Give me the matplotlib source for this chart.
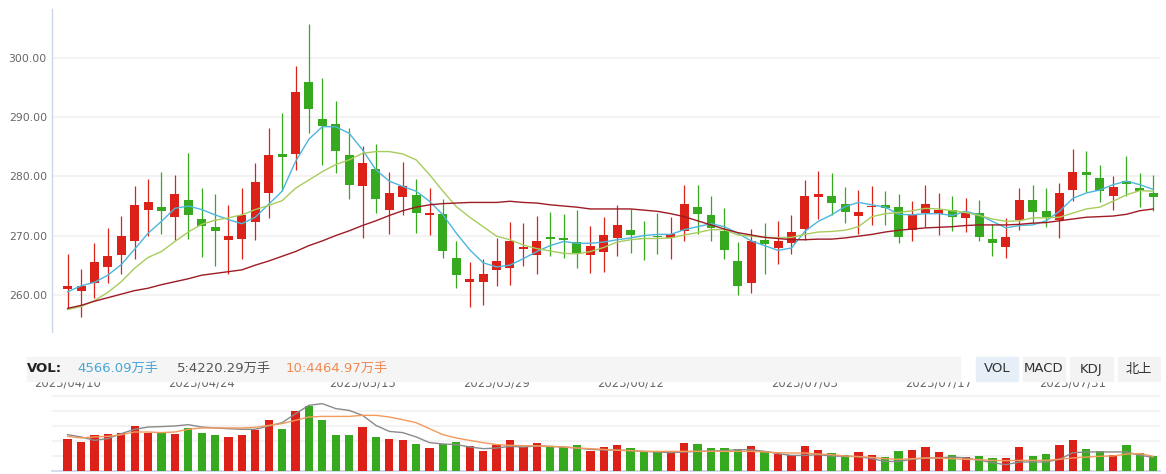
import matplotlib.pyplot as plt
import matplotlib.transforms as mtransforms
from matplotlib.patches import Rectangle

plt.rcParams['font.family'] = ['DejaVu Sans', 'Noto Sans CJK SC']

# daily candles, 2023/04/10 .. 2023/08/08
opens = [261.0, 260.7, 261.9, 264.7, 266.8, 269.1, 274.4, 274.8, 273.2, 276.0,
         272.8, 271.4, 269.3, 269.5, 272.3, 277.2, 283.8, 283.8, 295.9, 289.7,
         288.8, 283.6, 278.3, 281.2, 274.4, 276.5, 276.9, 273.4, 273.6, 266.2,
         262.2, 262.2, 264.1, 264.6, 267.8, 266.8, 269.8, 269.6, 268.9, 266.7,
         267.2, 269.6, 270.9, 269.6, 269.8, 269.6, 270.7, 274.8, 273.5, 270.8,
         265.7, 262.0, 269.2, 267.9, 268.7, 271.1, 276.6, 276.7, 275.3, 273.3,
         274.8, 275.2, 274.8, 270.9, 273.8, 273.7, 274.3, 272.9, 273.8, 269.4,
         268.1, 272.6, 276.0, 274.1, 272.6, 277.7, 280.7, 279.7, 276.7, 279.2,
         278.0, 277.2]
highs = [266.9, 264.4, 268.7, 271.3, 273.3, 278.4, 279.5, 280.7, 280.2, 283.9,
         278.0, 277.0, 275.2, 278.0, 282.3, 288.2, 290.7, 298.6, 305.7, 296.6,
         292.7, 288.2, 285.2, 285.5, 280.7, 282.5, 279.5, 278.0, 276.2, 269.1,
         265.5, 266.1, 269.6, 272.3, 272.1, 273.3, 274.0, 273.6, 274.3, 271.6,
         273.1, 275.2, 274.5, 272.5, 273.8, 273.1, 278.5, 278.5, 276.7, 274.7,
         268.9, 271.1, 272.1, 272.5, 273.5, 279.4, 280.9, 280.6, 278.2, 277.7,
         278.4, 277.5, 277.0, 275.8, 278.5, 277.2, 276.7, 276.3, 276.0, 271.9,
         273.0, 278.0, 278.5, 278.0, 278.9, 284.6, 284.3, 281.9, 280.1, 283.4,
         280.6, 280.2]
lows = [257.7, 256.3, 259.4, 262.0, 263.5, 266.1, 270.0, 270.3, 269.3, 269.5,
        266.4, 264.9, 263.5, 266.1, 269.3, 273.0, 277.5, 281.1, 287.3, 282.0,
        280.5, 276.1, 269.6, 273.8, 270.3, 273.5, 270.4, 270.1, 266.2, 261.1,
        258.0, 258.3, 261.5, 261.7, 264.8, 263.5, 266.6, 266.2, 264.5, 263.7,
        263.8, 266.5, 267.0, 265.8, 266.9, 266.1, 269.1, 270.3, 269.1, 266.1,
        259.9, 260.3, 263.5, 265.2, 266.9, 269.2, 272.8, 273.5, 272.1, 270.3,
        271.8, 271.8, 268.7, 269.1, 271.4, 270.1, 270.8, 270.6, 269.1, 266.5,
        266.2, 271.0, 272.1, 271.4, 269.6, 275.8, 277.4, 275.7, 274.3, 276.7,
        274.8, 274.1]
closes = [261.5, 261.5, 265.5, 266.5, 269.9, 275.2, 275.7, 274.2, 277.0, 273.4,
          271.7, 270.8, 269.9, 273.5, 279.0, 283.6, 283.3, 294.3, 291.4, 288.6,
          284.3, 278.6, 282.3, 276.1, 277.2, 278.4, 273.9, 273.8, 267.4, 263.4,
          262.7, 263.5, 265.7, 269.0, 268.1, 269.1, 269.4, 269.3, 267.0, 268.2,
          270.1, 271.8, 270.1, 269.4, 269.8, 270.3, 275.3, 273.7, 271.3, 267.6,
          261.5, 269.1, 268.6, 269.1, 270.6, 276.7, 277.0, 275.5, 274.0, 274.0,
          275.0, 274.6, 269.8, 273.5, 275.3, 274.3, 273.1, 273.8, 269.8, 268.8,
          269.8, 276.0, 274.0, 273.1, 277.2, 280.7, 280.3, 277.6, 278.2, 278.8,
          277.5, 276.6]

ma5 = [260.5, 261.5, 262.1, 263.3, 265.1, 267.7, 270.4, 272.4, 274.6, 275.0,
       274.4, 273.5, 272.7, 272.0, 273.1, 275.3, 277.5, 282.5, 286.3, 288.4,
       288.4, 287.3, 284.5, 281.1, 279.2, 278.3, 277.5, 275.8, 273.5, 270.4,
       267.6, 265.4, 264.7, 265.0, 266.1, 267.3, 268.3, 269.0, 268.7, 268.7,
       268.9, 269.3, 269.6, 270.0, 270.2, 270.2, 271.0, 271.5, 272.0, 271.5,
       270.4, 269.1, 268.3, 267.5, 267.9, 270.7, 272.4, 273.5, 274.9, 275.6,
       275.2, 274.8, 273.6, 273.5, 273.7, 273.7, 273.4, 274.1, 273.5, 272.4,
       271.3, 271.7, 271.8, 272.5, 274.1, 276.3, 277.2, 277.7, 278.6, 279.2,
       278.6, 277.8]
ma10 = [257.5, 258.0, 259.0, 260.4, 262.2, 264.5, 266.3, 267.3, 269.0, 270.6,
        271.9, 272.6, 273.0, 273.5, 274.4, 275.1, 275.9, 278.0, 279.4, 280.8,
        282.0, 282.8, 283.9, 284.2, 284.2, 283.8, 282.8, 280.3, 277.5, 274.9,
        273.1, 271.5, 269.9, 269.3, 268.4, 267.8, 267.4, 267.0, 266.9, 267.3,
        268.0, 268.9, 269.3, 269.5, 269.5, 269.6, 270.1, 270.5, 271.0, 271.0,
        270.1, 269.9, 269.7, 269.6, 269.7, 270.2, 270.6, 270.7, 270.9, 271.5,
        273.2, 273.7, 273.9, 274.2, 274.6, 274.5, 274.2, 273.9, 273.4, 272.8,
        272.4, 272.5, 273.0, 273.0, 273.1, 273.8, 274.5, 274.8, 275.8, 276.9,
        277.6, 277.5]
ma30 = [257.7, 258.2, 258.9, 259.5, 260.1, 260.7, 261.1, 261.7, 262.2, 262.7,
        263.3, 263.6, 263.9, 264.2, 265.0, 265.7, 266.5, 267.3, 268.3, 269.1,
        270.0, 270.8, 271.7, 272.5, 273.4, 274.2, 274.8, 275.2, 275.4, 275.5,
        275.6, 275.6, 275.6, 275.8, 275.6, 275.5, 275.2, 275.0, 274.8, 274.5,
        274.5, 274.5, 274.5, 274.3, 274.1, 273.7, 273.2, 272.5, 271.8, 271.1,
        270.5, 270.1, 269.7, 269.5, 269.3, 269.3, 269.4, 269.4, 269.6, 269.9,
        270.2, 270.6, 270.9, 271.1, 271.3, 271.4, 271.5, 271.7, 271.8, 271.8,
        271.8, 271.9, 272.1, 272.2, 272.5, 272.8, 273.1, 273.2, 273.3, 273.6,
        274.2, 274.5]

# volume in 万手
volume = [9730, 8810, 10960, 11280, 11550, 13700, 11550, 11550, 11280, 13100,
          11550, 10960, 10360, 10960, 12470, 15520, 12780, 18260, 19910, 15520,
          10960, 10960, 13380, 10360, 9730, 9450, 8220, 6990, 8220, 8810,
          7630, 6070, 7900, 9450, 7310, 8540, 7310, 7310, 7900, 6070,
          7310, 7900, 6990, 6070, 6070, 5480, 8540, 8220, 6990, 6990,
          6710, 7630, 6070, 5160, 4890, 7630, 6390, 5480, 4890, 5800,
          4890, 4250, 6070, 6390, 7310, 5800, 4890, 4250, 4570, 3970,
          3970, 7310, 4570, 5160, 7900, 9450, 6710, 6070, 4890, 7900,
          5480, 4566]
vol_ma5 = [11050, 10370, 9320, 9860, 11370, 12690, 13380, 13520, 13700, 14110,
           13380, 13100, 12880, 12690, 12690, 13700, 14700, 17440, 20000, 20500,
           19000, 18450, 16940, 13880, 12050, 11690, 10370, 8630, 8220, 8040,
           7310, 6800, 6990, 7490, 7310, 7630, 7490, 7310, 6990, 6580,
           6390, 6390, 6210, 5980, 5800, 5570, 5800, 5980, 6070, 6210,
           6480, 6480, 5980, 5300, 4750, 4750, 4980, 4570, 4480, 4380,
           3740, 2920, 2920, 3560, 3970, 3970, 4250, 3970, 3240, 2560,
           1920, 2740, 2740, 2740, 3560, 5570, 5800, 5800, 5800, 5800,
           4750, 4220]
vol_ma10 = [10550, 10050, 10370, 10550, 11050, 11870, 11870, 11690, 11870, 12690,
            13100, 13100, 13100, 13100, 13290, 13880, 14430, 15430, 16440, 16620,
            16620, 16620, 16940, 16940, 16440, 15620, 14700, 12880, 11050, 10050,
            9320, 8630, 8040, 7810, 7720, 7630, 7490, 7310, 6990, 6800,
            6580, 6300, 6210, 5980, 5980, 5980, 5980, 5980, 5980, 5980,
            5980, 5980, 5800, 5570, 5480, 5480, 5160, 4980, 4570, 4380,
            4160, 3740, 3560, 3740, 3970, 3970, 3740, 3560, 3470, 3240,
            3150, 3240, 3240, 3240, 3560, 3970, 4250, 4480, 4570, 5160,
            5300, 4465]

date_pos = [0, 10, 22, 32, 42, 55, 65, 75]
date_labels = ['2023/04/10', '2023/04/24', '2023/05/15', '2023/05/29',
               '2023/06/12', '2023/07/03', '2023/07/17', '2023/07/31']
price_ticks = [260, 270, 280, 290, 300]
vol_grid = [4566, 9132, 13698, 18264, 22830]

RED = '#dc2218'
GREEN = '#37a91f'
W, H = 1166, 474


def box(l, t, r, b):
    # pixel box -> figure fractions
    return [l / W, 1 - b / H, (r - l) / W, (b - t) / H]


fig = plt.figure(figsize=(W / 100, H / 100), dpi=100)
ax = fig.add_axes(box(51.7, 9, 1160, 332))
axv = fig.add_axes(box(51.7, 381, 1160, 471))

x = list(range(len(closes)))
colors = [RED if c > o else GREEN for o, c in zip(opens, closes)]

# candles
ax.vlines(x, lows, highs, colors=colors, lw=0.9, zorder=3)
bottoms = [min(o, c) for o, c in zip(opens, closes)]
heights = [max(abs(c - o), 0.15) for o, c in zip(opens, closes)]
ax.bar(x, heights, bottom=bottoms, width=0.67, color=colors, zorder=3)

ax.plot(x, ma5, color='#4cb6dc', lw=1.0, zorder=4)
ax.plot(x, ma10, color='#a8cc5c', lw=1.0, zorder=4)
ax.plot(x, ma30, color='#9e1b26', lw=1.0, zorder=4)

ax.set_xlim(-1.19, 81.5)
ax.set_ylim(253.7, 308.3)
ax.set_yticks(price_ticks)
ax.set_yticklabels(['%.2f' % t for t in price_ticks])
ax.set_xticks([])
ax.tick_params(axis='y', length=0, pad=3.5, labelsize=7.8, labelcolor='#666666')
ax.grid(axis='y', color='#f3f3f3', lw=1.5, zorder=0)
for s in ['top', 'right', 'bottom']:
    ax.spines[s].set_visible(False)
ax.spines['left'].set_color('#ccd6eb')
ax.spines['left'].set_linewidth(1)

# volume pane
axv.bar(x, volume, width=0.62, color=colors, zorder=3)
axv.plot(x, vol_ma5, color='#8a8a8a', lw=1.0, zorder=4)
axv.plot(x, vol_ma10, color='#f39a5c', lw=1.0, zorder=4)
axv.set_xlim(-1.19, 81.5)
axv.set_ylim(0, 27396)
axv.set_yticks(vol_grid)
axv.set_yticklabels([])
axv.set_xticks([])
axv.tick_params(length=0)
axv.grid(axis='y', color='#f3f3f3', lw=1.5, zorder=0)
for s in ['top', 'right', 'left']:
    axv.spines[s].set_visible(False)
axv.spines['bottom'].set_color('#ccd6eb')
axv.spines['bottom'].set_linewidth(1.2)

trans = mtransforms.blended_transform_factory(axv.transData, axv.transAxes)
for p, lab in zip(date_pos, date_labels):
    axv.text(p, 0.941, lab, transform=trans, ha='center', va='baseline',
             fontsize=8.4, color='#666666', clip_on=False)

# info strip: opaque band that hides the top of the date labels
fig.patches.append(Rectangle((0, 1 - 381 / H), 1, 24 / H,
                             transform=fig.transFigure, color='white', zorder=1.5))
fig.patches.append(Rectangle((27 / W, 1 - 381 / H), (960 - 27) / W, 24 / H,
                             transform=fig.transFigure, color='#f5f5f5', zorder=2))
buttons = [('VOL', 976, 1018, '#e6eef8'), ('MACD', 1023, 1065, '#f3f3f3'),
           ('KDJ', 1070, 1112.5, '#f3f3f3'), ('北上', 1117.5, 1160, '#f3f3f3')]
for lab, l, r, bg in buttons:
    fig.patches.append(Rectangle((l / W, 1 - 381 / H), (r - l) / W, 24 / H,
                                 transform=fig.transFigure, color=bg, zorder=2))
    fig.text((l + r) / 2 / W, 1 - 369 / H, lab, ha='center', va='center',
             fontsize=9.5, color='#333333', zorder=3)

ty = 1 - 368.5 / H
fig.text(27 / W, ty, 'VOL:', fontsize=9.5, fontweight='bold', color='#222222',
         va='center', zorder=3)
fig.text(77 / W, ty, '4566.09万手', fontsize=9.5, color='#4aa6d6', va='center', zorder=3)
fig.text(177 / W, ty, '5:4220.29万手', fontsize=9.5, color='#555555', va='center', zorder=3)
fig.text(286 / W, ty, '10:4464.97万手', fontsize=9.5, color='#ef8a52', va='center', zorder=3)

fig.savefig('out.png', dpi=100)
